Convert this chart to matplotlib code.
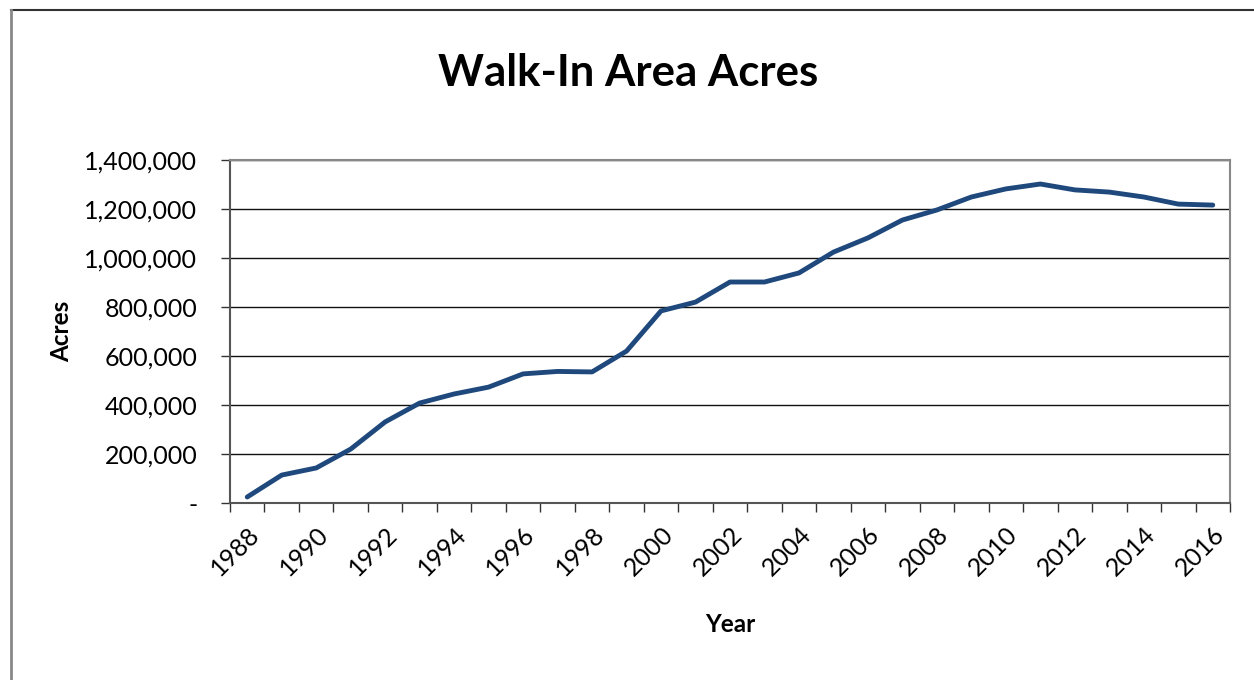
import matplotlib.pyplot as plt
from matplotlib.ticker import FuncFormatter
from matplotlib.lines import Line2D

years = list(range(1988, 2017))
acres = [24500, 114000, 143000, 220000, 331000, 408000, 445000, 473000, 527000,
         537000, 535000, 620000, 784000, 820000, 902000, 902000, 939000, 1024000,
         1082000, 1155000, 1196000, 1249000, 1282000, 1302000, 1278000, 1269000,
         1249000, 1220000, 1216000]
tick_years = list(range(1988, 2017, 2))

W, H = 1254, 680
fig = plt.figure(figsize=(W / 100, H / 100), dpi=100)
fig.patch.set_facecolor('white')

# outer chart frame (top and left edges visible)
fig.add_artist(Line2D([11 / W, 1.0], [1 - 10 / H, 1 - 10 / H], color='#333333', lw=1.5))
fig.add_artist(Line2D([11 / W, 11 / W], [0, 1 - 10 / H], color='#888888', lw=2))

ax = fig.add_axes([230 / W, 1 - 503 / H, 1000 / W, 343 / H])
x = list(range(len(years)))
ax.plot(x, acres, color='#1F497D', lw=3.5, solid_capstyle='round', solid_joinstyle='round', zorder=3)

ax.set_xlim(-0.5, len(years) - 0.5)
ax.set_ylim(0, 1400000)
ax.set_yticks(range(0, 1400001, 200000))
ax.yaxis.set_major_formatter(FuncFormatter(lambda v, p: '-' if v == 0 else f'{int(v):,}'))
ax.set_xticks([years.index(y) for y in tick_years])
ax.set_xticklabels([str(y) for y in tick_years], rotation=45, ha='right', va='top',
                   rotation_mode='anchor', fontsize=18, family='Lato')
ax.set_xticks([i - 0.5 for i in range(len(years) + 1)], minor=True)
ax.tick_params(axis='x', which='major', length=0, pad=14)
ax.tick_params(axis='x', which='minor', length=6.5, color='#333333', width=1)
ax.tick_params(axis='y', length=6.5, color='#333333', width=1, pad=17, labelsize=18)
for lbl in ax.get_yticklabels():
    lbl.set_family('Lato')

ax.grid(axis='y', color='#111111', lw=1)
ax.set_axisbelow(True)
for s in ['top', 'right']:
    ax.spines[s].set_color('#888888')
    ax.spines[s].set_linewidth(1.5)
ax.spines['left'].set_color('#555555')
ax.spines['left'].set_linewidth(1.5)
ax.spines['bottom'].set_color('#555555')
ax.spines['bottom'].set_linewidth(1.5)

ax.set_ylabel('Acres', fontsize=17.5, fontweight='bold', family='Lato', labelpad=8)
ax.set_xlabel('Year', fontsize=17.5, fontweight='bold', family='Lato', labelpad=24)

fig.text(628 / W, 1 - 73 / H, 'Walk-In Area Acres', ha='center', va='center',
         fontsize=31.5, fontweight='bold', family='Lato')

fig.savefig('out.png', dpi=100, facecolor='white')
